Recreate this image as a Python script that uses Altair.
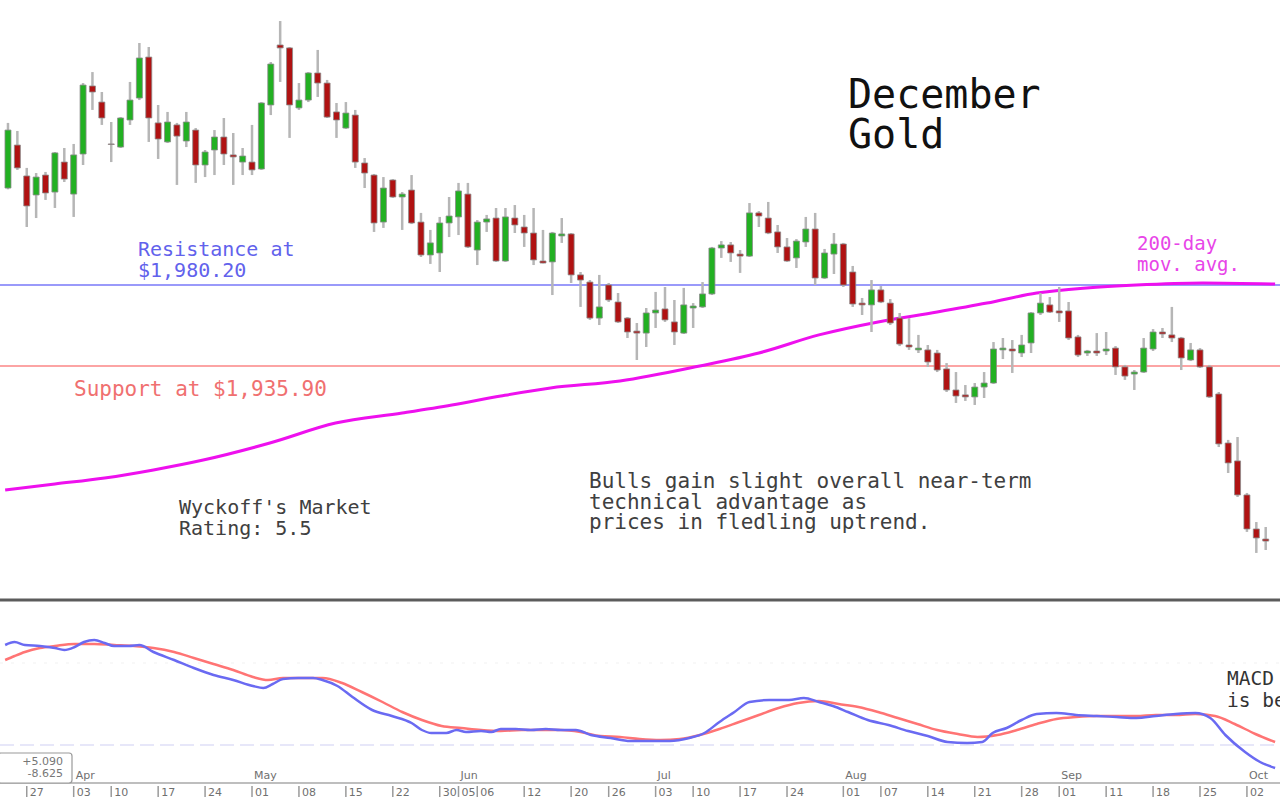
import altair as alt
import pandas as pd

# ---------------- price data (trading-day index 0..134) ----------------
opens = [2033.2, 2056.7, 2039.8, 2029.4, 2040.3, 2031.0, 2047.4, 2029.9, 2051.8, 2089.0,
         2080.2, 2057.3, 2055.6, 2070.4, 2082.4, 2104.8, 2068.8, 2058.4, 2067.7, 2058.9,
         2064.9, 2045.8, 2054.0, 2061.1, 2051.3, 2047.4, 2047.4, 2043.6, 2078.6, 2111.4,
         2109.8, 2077.0, 2081.3, 2096.1, 2090.6, 2074.8, 2066.0, 2073.1, 2046.9, 2040.3,
         2014.6, 2037.6, 2028.3, 2032.1, 2014.6, 1996.6, 1997.7, 2014.1, 2017.4, 2029.9,
         1999.3, 2014.6, 2016.8, 1993.3, 2016.8, 2011.9, 2008.6, 1993.3, 1992.8, 2007.0,
         2008.1, 1985.7, 1981.8, 1962.1, 1980.2, 1970.9, 1962.1, 1955.0, 1953.9, 1964.9,
         1967.1, 1960.0, 1953.9, 1967.6, 1968.2, 1975.3, 2000.4, 2002.1, 1997.1, 1996.0,
         2019.6, 2016.8, 2009.2, 2001.0, 1995.0, 2003.7, 2010.8, 1984.0, 1997.1, 2002.6,
         1987.3, 1970.3, 1969.3, 1977.5, 1970.3, 1962.1, 1947.4, 1944.7, 1944.7, 1943.0,
         1934.3, 1922.8, 1920.1, 1919.0, 1924.4, 1926.6, 1944.7, 1945.2, 1943.0, 1948.5,
         1964.9, 1969.3, 1966.0, 1966.0, 1951.8, 1943.0, 1944.1, 1944.1, 1945.7, 1935.4,
         1931.5, 1932.6, 1945.2, 1954.5, 1952.9, 1951.2, 1939.2, 1944.7, 1935.4, 1920.6,
         1893.8, 1884.0, 1865.4, 1846.8, 1841.3]
highs = [2068.8, 2064.4, 2044.2, 2041.4, 2042.0, 2052.9, 2055.1, 2057.3, 2090.6, 2096.6,
         2085.7, 2069.3, 2072.0, 2091.2, 2112.5, 2110.3, 2078.6, 2074.8, 2068.8, 2074.8,
         2066.0, 2054.0, 2064.9, 2071.5, 2063.3, 2055.1, 2067.7, 2080.2, 2102.1, 2124.5,
         2110.3, 2090.6, 2096.6, 2108.7, 2092.3, 2079.7, 2080.2, 2075.9, 2049.6, 2040.9,
         2039.2, 2038.1, 2031.0, 2040.3, 2019.6, 2010.3, 2017.4, 2028.3, 2036.0, 2036.0,
         2015.7, 2018.5, 2022.3, 2022.3, 2023.9, 2018.5, 2022.3, 2010.3, 2009.2, 2016.8,
         2008.6, 1987.3, 1982.9, 1985.7, 1981.3, 1975.8, 1962.7, 1959.4, 1967.6, 1976.4,
         1979.1, 1972.0, 1978.6, 1970.3, 1981.8, 2001.0, 2004.2, 2003.7, 1999.3, 2025.0,
         2020.6, 2025.6, 2013.0, 2005.9, 2005.3, 2017.4, 2019.6, 1999.9, 2008.6, 2003.2,
         1990.6, 1973.1, 1982.9, 1979.6, 1972.5, 1964.9, 1962.1, 1952.9, 1947.4, 1944.7,
         1937.5, 1932.6, 1925.5, 1926.6, 1932.6, 1949.0, 1951.2, 1950.1, 1952.9, 1965.4,
         1975.8, 1973.6, 1979.1, 1970.9, 1952.9, 1944.7, 1953.9, 1954.5, 1946.8, 1936.5,
         1933.7, 1951.2, 1956.1, 1956.7, 1968.2, 1951.8, 1948.5, 1945.7, 1936.5, 1921.7,
         1895.5, 1897.1, 1866.5, 1850.6, 1847.9]
lows = [2032.5, 2043.1, 2011.9, 2016.8, 2026.7, 2022.3, 2036.5, 2017.4, 2045.8, 2075.9,
        2067.7, 2047.4, 2055.1, 2067.7, 2081.3, 2058.4, 2049.1, 2057.8, 2034.9, 2055.6,
        2036.0, 2039.2, 2040.3, 2045.8, 2034.9, 2040.3, 2040.3, 2043.1, 2073.1, 2091.2,
        2060.6, 2075.9, 2080.2, 2083.0, 2071.5, 2060.6, 2065.5, 2044.2, 2033.2, 2009.2,
        2011.4, 2027.8, 2010.3, 2013.5, 1995.5, 1991.7, 1987.3, 2006.4, 2007.5, 2000.4,
        1991.1, 2009.2, 1992.8, 1992.8, 2008.6, 2001.0, 1991.1, 1992.0, 1974.7, 2003.2,
        1981.3, 1968.2, 1961.1, 1958.3, 1970.9, 1959.4, 1951.2, 1939.2, 1946.3, 1956.7,
        1960.0, 1947.4, 1953.4, 1956.7, 1967.6, 1974.7, 1995.0, 1992.8, 1986.8, 1995.5,
        2011.9, 2008.0, 1997.7, 1992.8, 1989.5, 2001.0, 1980.2, 1983.5, 1986.2, 1979.1,
        1968.2, 1963.8, 1954.5, 1970.3, 1958.3, 1946.8, 1944.7, 1943.0, 1935.4, 1932.6,
        1921.7, 1915.7, 1916.8, 1914.6, 1918.4, 1926.1, 1939.7, 1932.1, 1940.8, 1943.0,
        1963.8, 1964.9, 1960.0, 1950.1, 1940.8, 1941.4, 1941.4, 1941.9, 1931.0, 1928.3,
        1922.8, 1932.1, 1944.1, 1951.2, 1949.0, 1933.7, 1938.6, 1934.8, 1918.4, 1891.6,
        1877.4, 1864.3, 1845.2, 1833.7, 1835.3]
closes = [2064.9, 2044.2, 2023.4, 2039.2, 2030.5, 2052.4, 2038.1, 2051.3, 2089.5, 2085.7,
          2071.5, 2057.0, 2071.5, 2081.3, 2104.3, 2071.5, 2060.0, 2069.3, 2061.6, 2069.3,
          2045.8, 2052.9, 2061.1, 2051.8, 2050.2, 2050.7, 2043.1, 2079.7, 2101.0, 2109.8,
          2078.6, 2081.3, 2096.1, 2090.6, 2072.0, 2070.4, 2074.2, 2047.4, 2041.4, 2014.1,
          2033.2, 2028.3, 2029.9, 2014.1, 1996.6, 2003.2, 2014.1, 2017.9, 2031.6, 2001.0,
          2014.6, 2016.3, 1993.3, 2017.4, 2013.0, 2008.6, 1993.9, 1992.2, 2008.6, 2008.1,
          1985.7, 1982.9, 1962.1, 1968.2, 1972.0, 1960.0, 1954.5, 1953.9, 1964.9, 1966.5,
          1961.1, 1954.5, 1969.3, 1968.7, 1975.3, 2000.4, 2002.1, 1997.7, 1996.0, 2019.6,
          2017.9, 2008.6, 2001.0, 1993.3, 2004.2, 2010.8, 1984.0, 1997.7, 2002.6, 1980.2,
          1969.8, 1969.3, 1977.5, 1970.9, 1959.4, 1947.9, 1946.3, 1945.7, 1938.1, 1933.7,
          1922.8, 1919.5, 1919.0, 1924.4, 1926.6, 1945.2, 1945.7, 1944.1, 1947.4, 1964.9,
          1970.3, 1965.4, 1964.9, 1951.2, 1941.9, 1944.1, 1943.0, 1945.2, 1935.4, 1930.4,
          1932.6, 1945.7, 1954.5, 1953.4, 1951.2, 1940.3, 1944.7, 1935.4, 1919.0, 1893.3,
          1882.9, 1865.4, 1846.8, 1841.9, 1840.2]

# 200-day moving average (trading-day index, price)
ma_idx = [-0.3, 5.0, 10.3, 15.5, 20.8, 27.9, 34.9, 42.0, 47.3, 52.5, 57.8, 65.2, 73.7,
          80.0, 86.4, 92.7, 99.0, 104.3, 109.6, 114.9, 120.2, 127.3, 135.0]
ma_val = [1868.1, 1871.4, 1874.7, 1879.1, 1884.5, 1893.8, 1904.7, 1910.2, 1914.6, 1919.5,
          1923.9, 1927.7, 1935.9, 1943.0, 1952.9, 1960.0, 1965.4, 1970.3, 1975.8, 1978.6,
          1980.2, 1981.3, 1980.7]

resistance = 1980.20
support = 1935.90

# MACD (blue) and signal (red)
macd_idx = [-0.3, 0.7, 1.8, 3.4, 5.0, 6.0, 7.1, 8.1, 9.2, 10.3, 11.3, 12.9, 14.0, 15.5, 17.7,
            19.8, 21.9, 24.0, 26.1, 27.2, 28.2, 29.3, 30.9, 32.5, 33.5, 35.1, 36.7, 38.8,
            40.9, 43.0, 44.1, 45.1, 46.7, 47.8, 48.8, 50.4, 51.5, 52.5, 54.1, 55.7, 57.3,
            58.9, 60.5, 62.1, 64.2, 66.3, 68.4, 70.5, 72.6, 74.2, 75.8, 77.4, 79.0, 81.1,
            83.2, 84.8, 86.4, 87.9, 89.5, 91.6, 93.8, 95.9, 98.0, 100.1, 102.2, 103.8,
            104.9, 106.4, 108.0, 109.6, 111.7, 113.8, 116.0, 118.1, 120.2, 122.3, 124.4,
            126.5, 128.1, 129.7, 131.8, 133.4, 135.0]
macd_val = [25.0, 25.75, 25.0, 24.75, 24.25, 23.75, 24.5, 25.75, 26.25, 25.5, 24.75, 24.75,
            25.0, 23.25, 21.25, 19.25, 17.5, 16.25, 14.75, 14.25, 15.25, 16.5, 16.75, 16.75,
            16.25, 14.75, 12.0, 8.75, 7.25, 5.5, 3.75, 3.0, 3.0, 3.75, 3.25, 3.5, 3.25, 4.0,
            4.0, 3.75, 4.0, 3.75, 3.75, 2.5, 1.75, 1.0, 1.0, 1.0, 1.75, 3.0, 5.75, 8.25,
            10.75, 11.25, 11.25, 11.75, 10.75, 9.75, 8.25, 6.25, 5.0, 3.5, 2.25, 0.75, 0.5,
            0.75, 3.0, 4.25, 6.25, 7.75, 8.0, 7.5, 7.25, 7.0, 6.75, 7.25, 7.75, 8.0, 6.75,
            2.5, -1.75, -4.25, -5.75]
sig_idx = [-0.3, 0.7, 1.8, 3.4, 5.0, 7.1, 9.2, 11.3, 13.4, 15.5, 17.7, 19.8, 21.9, 24.0,
           26.1, 27.7, 29.3, 31.4, 33.5, 35.6, 37.7, 39.9, 42.0, 44.1, 46.2, 48.3, 50.4,
           52.5, 54.7, 56.8, 58.9, 61.0, 63.1, 65.2, 67.3, 69.5, 71.6, 73.7, 75.8, 77.9,
           80.0, 82.1, 84.2, 86.4, 88.5, 90.6, 92.7, 94.8, 96.9, 99.0, 101.2, 103.3, 105.4,
           107.5, 109.6, 111.7, 113.8, 116.0, 118.1, 120.2, 122.3, 124.4, 126.5, 128.6,
           130.7, 132.9, 135.0]
sig_val = [21.25, 22.25, 23.25, 24.25, 24.75, 25.25, 25.25, 25.0, 24.75, 24.25, 23.25,
           21.75, 20.25, 18.75, 17.0, 16.25, 16.75, 16.75, 16.75, 15.5, 13.25, 10.75, 8.25,
           6.25, 4.75, 4.25, 3.75, 3.5, 3.75, 3.75, 3.75, 3.25, 2.25, 2.0, 1.5, 1.25, 1.5,
           2.5, 4.0, 5.75, 7.5, 9.25, 10.5, 11.0, 10.25, 9.5, 8.25, 6.75, 5.25, 3.75, 2.75,
           2.0, 2.5, 3.75, 5.25, 6.5, 7.0, 7.25, 7.25, 7.25, 7.5, 7.5, 7.75, 7.25, 5.25,
           2.75, 0.75]
macd_levels = [0.0, 20.5]

# date axis (trading-day index of each labelled day)
day_idx = [2, 7, 11, 16, 21, 26, 31, 36, 41, 46, 48, 50, 55, 60, 64, 69, 73, 78, 83, 89,
           93, 98, 103, 108, 112, 117, 122, 127, 132]
day_lbl = ["27", "03", "10", "17", "24", "01", "08", "15", "22", "30", "05", "06", "12",
           "20", "26", "03", "10", "17", "24", "01", "07", "14", "21", "28", "01", "11",
           "18", "25", "02"]
month_idx = [7, 26, 48, 69, 89, 112, 132]
month_lbl = ["Apr", "May", "Jun", "Jul", "Aug", "Sep", "Oct"]

# ---------------- build chart ----------------
MONO = "DejaVu Sans Mono"
W, H = 1280, 805

candles = pd.DataFrame({"i": list(range(len(opens))), "open": opens, "high": highs,
                        "low": lows, "close": closes})
candles["dir"] = ["up" if c >= o else "down" for o, c in zip(opens, closes)]

xs = alt.Scale(domain=[-0.317, 134.99], nice=False, zero=False)
X = alt.X("i:Q", scale=xs, axis=None)
py = alt.Scale(domain=[1695.9, 2136.0], nice=False, zero=False)
my = alt.Scale(domain=[-15.0, 186.25], nice=False, zero=False)

lvl = pd.DataFrame({"p": [resistance, support], "k": ["res", "sup"]})
hlines = alt.Chart(lvl).mark_rule(strokeWidth=2).encode(
    y=alt.Y("p:Q", scale=py, axis=None),
    x=alt.value(0), x2=alt.value(W),
    color=alt.Color("k:N", scale=alt.Scale(domain=["res", "sup"], range=["#9a9afa", "#fca4a4"]), legend=None),
)

ma = alt.Chart(pd.DataFrame({"i": ma_idx, "v": ma_val})).mark_line(
    color="#ee10ee", strokeWidth=3, interpolate="monotone").encode(
    x=X, y=alt.Y("v:Q", scale=py, axis=None))

wicks = alt.Chart(candles).mark_rule(color="#b6b6b6", strokeWidth=2.5).encode(
    x=X, y=alt.Y("low:Q", scale=py, axis=None), y2="high:Q")

bodies = alt.Chart(candles).mark_bar(size=6, stroke="#8c8c8c", strokeWidth=0.8).encode(
    x=X, y=alt.Y("open:Q", scale=py, axis=None), y2="close:Q",
    fill=alt.Fill("dir:N", scale=alt.Scale(domain=["up", "down"], range=["#22b022", "#b01212"]), legend=None),
)

sep = alt.Chart(pd.DataFrame({"a": [0]})).mark_rule(color="#5c5c5c", strokeWidth=3).encode(
    x=alt.value(0), x2=alt.value(W), y=alt.value(600))

mlev = alt.Chart(pd.DataFrame({"v": macd_levels, "k": ["zero", "upper"]})).mark_rule(strokeWidth=1.2).encode(
    y=alt.Y("v:Q", scale=my, axis=None), x=alt.value(0), x2=alt.value(W),
    color=alt.Color("k:N", scale=alt.Scale(domain=["zero", "upper"], range=["#d0d0f4", "#f2f2f2"]), legend=None),
    strokeDash=alt.StrokeDash("k:N", scale=alt.Scale(domain=["zero", "upper"], range=[[14, 6], [3, 8]]), legend=None),
)

sig = alt.Chart(pd.DataFrame({"i": sig_idx, "v": sig_val})).mark_line(
    color="#ff7474", strokeWidth=2.5, interpolate="monotone").encode(
    x=X, y=alt.Y("v:Q", scale=my, axis=None))
macd = alt.Chart(pd.DataFrame({"i": macd_idx, "v": macd_val})).mark_line(
    color="#6a6af2", strokeWidth=2.5, interpolate="monotone").encode(
    x=X, y=alt.Y("v:Q", scale=my, axis=None))

axline = alt.Chart(pd.DataFrame({"a": [0]})).mark_rule(color="#a8a8a8", strokeWidth=1.5).encode(
    x=alt.value(0), x2=alt.value(W), y=alt.value(783))

days = pd.DataFrame({"i": day_idx, "t": day_lbl})
ticks = alt.Chart(days).mark_rule(color="#9a9a9a", strokeWidth=1.5).encode(
    x=X, y=alt.value(786), y2=alt.value(797))
daytxt = alt.Chart(days).mark_text(align="left", baseline="alphabetic", dx=3, font="DejaVu Sans",
                                   fontSize=11, color="#707070").encode(
    x=X, y=alt.value(796), text="t:N")
months = pd.DataFrame({"i": month_idx, "t": month_lbl})
montxt = alt.Chart(months).mark_text(align="left", baseline="alphabetic", dx=2, font="DejaVu Sans",
                                     fontSize=11, color="#707070").encode(
    x=X, y=alt.value(779), text="t:N")

box = alt.Chart(pd.DataFrame({"a": [0]})).mark_rect(
    fill="white", stroke="#9a9a9a", strokeWidth=1.2, cornerRadius=3).encode(
    x=alt.value(-2), x2=alt.value(72), y=alt.value(753), y2=alt.value(783))


def label(text, x, y, color, size, lh, font=MONO, align="left"):
    return alt.Chart(pd.DataFrame({"t": [text]})).mark_text(
        align=align, baseline="alphabetic", font=font, fontSize=size, color=color,
        lineBreak="\n", lineHeight=lh).encode(text="t:N", x=alt.value(x), y=alt.value(y))


texts = [
    label("December\nGold", 848, 108, "#111111", 40, 40),
    label("Resistance at\n$1,980.20", 138, 256, "#6262ec", 20, 21),
    label("Support at $1,935.90", 74, 396, "#f07070", 21, 21),
    label("200-day\nmov. avg.", 1137, 250, "#e845e8", 19, 21),
    label("Wyckoff's Market\nRating: 5.5", 179, 514, "#404040", 20, 21),
    label("Bulls gain slight overall near-term\ntechnical advantage as\nprices in fledling uptrend.",
          589, 488, "#404040", 21, 20.5),
    label("MACD\nis bearish", 1227, 685, "#333333", 19.5, 22),
    label("+5.090\n-8.625", 63, 765, "#777777", 11, 12, font="DejaVu Sans", align="right"),
]

chart = alt.layer(
    hlines, ma, wicks, bodies, sep, mlev, sig, macd, axline, ticks, daytxt, montxt, box, *texts
).resolve_scale(y="independent", color="independent", strokeDash="independent", fill="independent").properties(
    width=W, height=H, padding=0, autosize="none", background="white"
).configure_view(stroke=None)

chart.save("out.html", embed_options={"renderer": "svg", "actions": False})
